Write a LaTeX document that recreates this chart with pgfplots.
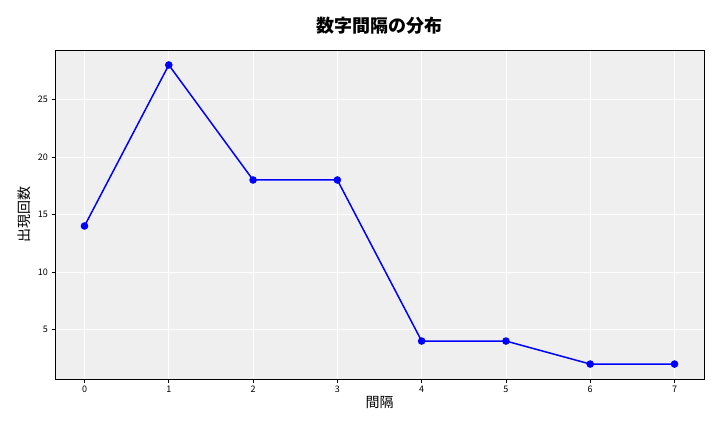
\documentclass[border=0pt]{standalone}
\usepackage{pgfplots}
\pgfplotsset{compat=1.18}
\usepackage{fontspec}
\setmainfont{Noto Sans CJK JP}
\setsansfont{Noto Sans CJK JP}
\definecolor{bgc}{HTML}{EFEFEF}
\begin{document}
\begin{tikzpicture}[x=1pt,y=1pt]
\path[use as bounding box] (0,0) rectangle (720,432);
\begin{axis}[
  at={(55pt,53pt)}, anchor=south west,
  scale only axis, width=649pt, height=329pt,
  xmin=-0.35, xmax=7.35, ymin=0.7, ymax=29.3,
  xtick={0,...,7}, ytick={5,10,15,20,25},
  axis background/.style={fill=bgc},
  grid=major, major grid style={white, line width=0.8pt},
  axis line style={black, line width=0.8pt},
  tick style={black, line width=0.6pt},
  tick align=outside, tick pos=left,
  major tick length=3.5pt,
  ticklabel style={font=\fontsize{9}{10}\selectfont},
  /pgf/number format/assume math mode=true,
  xlabel={間隔}, ylabel={出現回数},
  label style={font=\fontsize{14}{16}\selectfont},
  xlabel style={yshift=3pt},
  ylabel style={yshift=0pt},
  title={\textbf{数字間隔の分布}},
  title style={font=\fontsize{18}{20}\selectfont, yshift=6pt},
]
\addplot[blue, line width=1.5pt, mark=*, mark size=3pt, mark options={fill=blue, draw=blue}]
coordinates {(0,14) (1,28) (2,18) (3,18) (4,4) (5,4) (6,2) (7,2)};
\end{axis}
\end{tikzpicture}
\end{document}
